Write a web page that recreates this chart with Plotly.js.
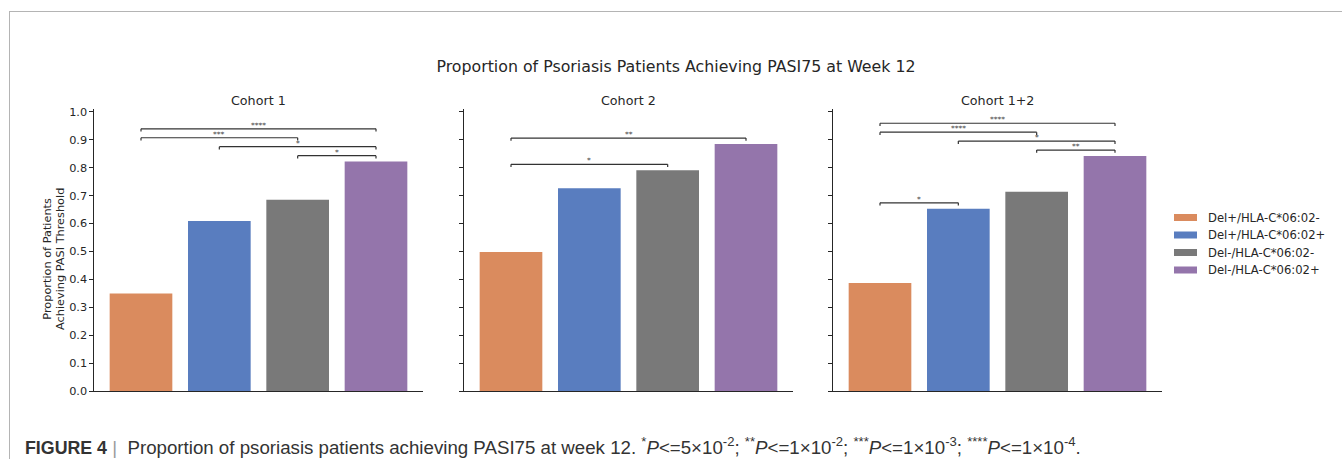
<!DOCTYPE html>
<html>
<head>
<meta charset="utf-8">
<script src="https://cdn.plot.ly/plotly-3.0.1.min.js"></script>
<style>html,body{margin:0;padding:0;background:#fff;} #chart{width:1342px;height:459px;}</style>
</head>
<body>
<div id="chart"></div>
<script>
// ---------------- DATA ----------------
const groups = ['Del+/HLA-C*06:02-', 'Del+/HLA-C*06:02+', 'Del-/HLA-C*06:02-', 'Del-/HLA-C*06:02+'];
const cohorts = ['Cohort 1', 'Cohort 2', 'Cohort 1+2'];
const cohort1Values = [0.349, 0.609, 0.685, 0.822];
const cohort2Values = [0.498, 0.726, 0.791, 0.885];
const cohort12Values = [0.387, 0.653, 0.714, 0.842];
// significance comparisons: [group index a, group index b, stars]
const cohort1Sig = [[2, 3, '*'], [1, 3, '*'], [0, 2, '***'], [0, 3, '****']];
const cohort2Sig = [[0, 2, '*'], [0, 3, '**']];
const cohort12Sig = [[0, 1, '*'], [2, 3, '**'], [1, 3, '*'], [0, 2, '****'], [0, 3, '****']];
const yTickVals = [0.0, 0.1, 0.2, 0.3, 0.4, 0.5, 0.6, 0.7, 0.8, 0.9, 1.0];
const yTickText = ['0.0', '0.1', '0.2', '0.3', '0.4', '0.5', '0.6', '0.7', '0.8', '0.9', '1.0'];
const mainTitle = 'Proportion of Psoriasis Patients Achieving PASI75 at Week 12';
const yTitleLines = ['Proportion of Patients', 'Achieving PASI Threshold'];
const captionText = '<span style="font-size:17.8px"><b>FIGURE 4</b></span> <span style="color:#9a9a9a">|</span>  Proportion of psoriasis patients achieving PASI75 at week 12. ' +
  '<sup>*</sup><i>P</i>&lt;=5×10<sup>-2</sup>; <sup>**</sup><i>P</i>&lt;=1×10<sup>-2</sup>; ' +
  '<sup>***</sup><i>P</i>&lt;=1×10<sup>-3</sup>; <sup>****</sup><i>P</i>&lt;=1×10<sup>-4</sup>.';

// ---------------- STYLE ----------------
const W = 1342, H = 459;
const fx = p => p / W;
const fy = p => 1 - p / H;
const colors = ['#DA8B5E', '#597DBF', '#797979', '#9475AB'];
const ink = '#262626';
const FONT = 'DejaVu Sans, sans-serif';
const panelX = [[94, 423], [464, 793], [833, 1162]];
const panelY = [391, 109];
const barOffset = 0.021, stackOffset = 0.032, tickDrop = 0.01;

const values = [cohort1Values, cohort2Values, cohort12Values];
const sigs = [cohort1Sig, cohort2Sig, cohort12Sig];

const data = [];
const shapes = [];
const annotations = [];
const layout = {
  width: W, height: H,
  margin: {l: 0, r: 0, t: 0, b: 0},
  paper_bgcolor: '#fff', plot_bgcolor: '#fff',
  showlegend: false,
  font: {family: FONT, color: ink},
  title: {
    text: mainTitle, x: fx(676), xanchor: 'center', y: fy(66), yanchor: 'middle',
    xref: 'paper', yref: 'paper',
    font: {family: FONT, size: 15.8, color: ink}
  }
};

values.forEach((vals, p) => {
  const sfx = p === 0 ? '' : String(p + 1);
  const xa = 'x' + sfx, ya = 'y' + sfx;
  data.push({
    type: 'bar', x: groups, y: vals, xaxis: xa, yaxis: ya,
    width: 0.8,
    marker: {color: colors, line: {width: 0}},
    hoverinfo: 'x+y', name: cohorts[p]
  });
  layout['xaxis' + sfx] = {
    domain: [fx(panelX[p][0]), fx(panelX[p][1])],
    anchor: ya, type: 'category', categoryorder: 'array', categoryarray: groups,
    range: [-0.6, 3.6], showline: true, linecolor: ink, linewidth: 1.1,
    ticks: '', showticklabels: false, showgrid: false, zeroline: false, fixedrange: true
  };
  layout['yaxis' + sfx] = {
    domain: [fy(panelY[0]), fy(panelY[1])],
    anchor: xa, range: [0, 1.01],
    tickmode: 'array', tickvals: yTickVals, ticktext: yTickText,
    ticks: 'outside', ticklen: 3.5, tickwidth: 1, tickcolor: ink,
    showticklabels: p === 0,
    tickfont: {family: FONT, size: 11.3, color: ink},
    showline: true, linecolor: ink, linewidth: 1.1,
    showgrid: false, zeroline: false, fixedrange: true
  };
  // subplot title
  annotations.push({
    text: cohorts[p], xref: 'paper', yref: 'paper',
    x: fx((panelX[p][0] + panelX[p][1]) / 2), y: fy(101),
    xanchor: 'center', yanchor: 'middle', showarrow: false,
    font: {family: FONT, size: 12.7, color: ink}
  });
  // significance brackets (stacked like statannot)
  const placed = [];
  sigs[p].forEach(([a, b, stars]) => {
    const lo = Math.min(a, b), hi = Math.max(a, b);
    let yb = Math.max(...vals.slice(lo, hi + 1)) + barOffset;
    placed.forEach(q => {
      if (q.hi >= lo && q.lo <= hi) yb = Math.max(yb, q.y + stackOffset);
    });
    placed.push({lo, hi, y: yb});
    const lineStyle = {color: '#333333', width: 1.2};
    shapes.push({type: 'line', xref: xa, yref: ya, x0: lo, x1: hi, y0: yb, y1: yb, line: lineStyle});
    shapes.push({type: 'line', xref: xa, yref: ya, x0: lo, x1: lo, y0: yb - tickDrop, y1: yb, line: lineStyle});
    shapes.push({type: 'line', xref: xa, yref: ya, x0: hi, x1: hi, y0: yb - tickDrop, y1: yb, line: lineStyle});
    annotations.push({
      text: stars, xref: xa, yref: ya, x: (lo + hi) / 2, y: yb,
      xanchor: 'center', yanchor: 'bottom', yshift: -3, showarrow: false,
      font: {family: FONT, size: 7.5, color: '#444'}
    });
  });
});

// y-axis title (two lines)
yTitleLines.forEach((t, i) => {
  annotations.push({
    text: t, xref: 'paper', yref: 'paper', x: fx(46.7 + i * 13.3), y: fy(259),
    xanchor: 'center', yanchor: 'middle', textangle: -90, showarrow: false,
    font: {family: FONT, size: 11.3, color: ink}
  });
});

// legend (drawn from groups & colors)
groups.forEach((g, i) => {
  const cy = 217.5 + i * 17.5;
  shapes.push({
    type: 'rect', xref: 'paper', yref: 'paper',
    x0: fx(1174), x1: fx(1197), y0: fy(cy + 3.5), y1: fy(cy - 3.5),
    fillcolor: colors[i], line: {width: 0}
  });
  annotations.push({
    text: g, xref: 'paper', yref: 'paper', x: fx(1206), y: fy(cy),
    xanchor: 'left', yanchor: 'middle', showarrow: false,
    font: {family: FONT, size: 11.6, color: ink}
  });
});

// frame lines
shapes.push({type: 'line', xref: 'paper', yref: 'paper', x0: fx(9), x1: 1, y0: fy(11.5), y1: fy(11.5), line: {color: '#b4b4b4', width: 1}});
shapes.push({type: 'line', xref: 'paper', yref: 'paper', x0: fx(9.5), x1: fx(9.5), y0: fy(11), y1: 0, line: {color: '#b4b4b4', width: 1}});

// caption
annotations.push({
  text: captionText, xref: 'paper', yref: 'paper', x: fx(23), y: fy(446),
  xanchor: 'left', yanchor: 'middle', showarrow: false,
  font: {family: 'Liberation Sans, Arial, sans-serif', size: 18.7, color: '#333333'}
});

layout.shapes = shapes;
layout.annotations = annotations;

Plotly.newPlot('chart', data, layout, {displayModeBar: false, staticPlot: true});
</script>
</body>
</html>
